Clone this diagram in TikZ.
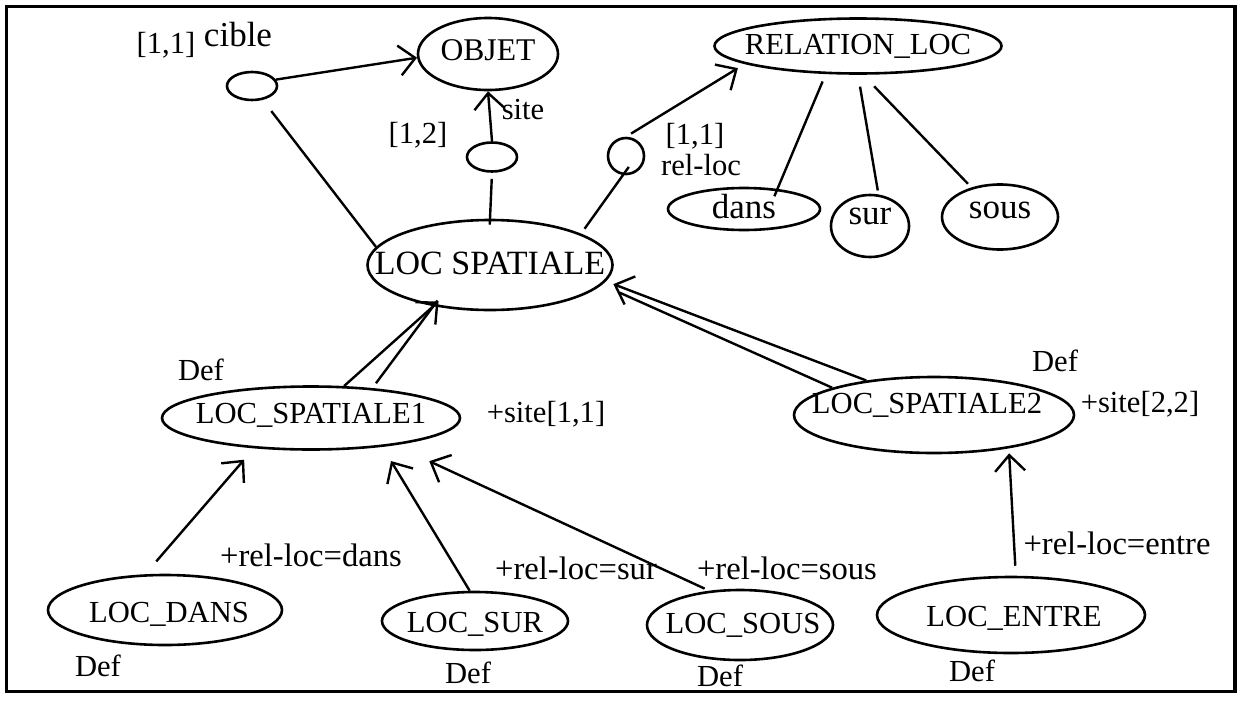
\documentclass[tikz,border=0pt]{standalone}
\usepackage{fontspec}
\setmainfont{Liberation Serif}
\usetikzlibrary{arrows.meta,calc,positioning,shapes.geometric}

\begin{document}
\begin{tikzpicture}[x=0.5pt,y=-0.5pt,
  every node/.style={font=\fontsize{15.3}{18}\selectfont,inner sep=0pt},
  grand/.style={font=\fontsize{17.5}{20}\selectfont},
  classe/.style={draw,ellipse,line width=1.3pt},
  lien/.style={line width=1.2pt},
  fleche/.style={line width=1.2pt,-{Straight Barb[length=8pt,width=15pt]}}]
\useasboundingbox (0,0) rectangle (1242,702);
\draw[line width=1.8pt] (6.5,6.5) rectangle (1235,691.5);

\node[classe,minimum width=70pt,minimum height=36pt,label={[yshift=2pt,font=\fontsize{15.8}{18}\selectfont]center:OBJET}] (objet) at (488,54) {};
\node[classe,minimum width=143.5pt,minimum height=27.5pt,label=center:RELATION\_LOC] (relrel) at (858,46) {};
\node[classe,minimum width=25pt,minimum height=14pt] (cible) at (252,86) {};
\node[classe,minimum width=25pt,minimum height=14.5pt] (site) at (492,157) {};
\node[classe,minimum width=18pt,minimum height=18pt] (relloc) at (626,156) {};
\node[classe,minimum width=76pt,minimum height=21pt,label={[grand,yshift=1pt]center:dans}] (dans) at (744,209) {};
\node[classe,minimum width=39pt,minimum height=31pt,label={[grand,yshift=5pt]center:sur}] (sur) at (870,226) {};
\node[classe,minimum width=58pt,minimum height=32.5pt,label={[grand,yshift=3.5pt]center:sous}] (sous) at (1000,217) {};
\node[classe,minimum width=122.5pt,minimum height=45pt,label={[font=\fontsize{17}{20}\selectfont,yshift=1pt]center:LOC SPATIALE}] (locsp) at (490,265) {};
\node[classe,minimum width=149pt,minimum height=31.5pt,label={[yshift=1.5pt]center:LOC\_SPATIALE1}] (ls1) at (311,418) {};
\node[classe,minimum width=140pt,minimum height=38pt,label={[xshift=-3.5pt,yshift=5pt]center:LOC\_SPATIALE2}] (ls2) at (934,415) {};
\node[classe,minimum width=117pt,minimum height=35pt,label={[xshift=2pt,yshift=-2pt]center:LOC\_DANS}] (ldans) at (165,610) {};
\node[classe,minimum width=93pt,minimum height=29pt,label={[yshift=-1.5pt]center:LOC\_SUR}] (lsur) at (475,621) {};
\node[classe,minimum width=93pt,minimum height=35pt,label={[xshift=1.5pt]center:LOC\_SOUS}] (lsous) at (740,625) {};
\node[classe,minimum width=134pt,minimum height=38pt,label={[xshift=1.5pt,yshift=-1.5pt]center:LOC\_ENTRE}] (lentre) at (1011,615) {};

\node (c11) at (166,45) {[1,1]};
\node[grand] (lcible) at (238,35) {cible};
\node (l12) at (418,135) {[1,2]};
\node (lsite) at (523,110) {site};
\node (r11) at (695,136) {[1,1]};
\node (lrelloc) at (701,165) {rel-loc};
\node (def1) at (201,370) {Def};
\node (s11) at (546,414) {+site[1,1]};
\node (def2) at (1055,361) {Def};
\node (s22) at (1140,404) {+site[2,2]};
\node[font=\fontsize{16.3}{19}\selectfont] (rdans) at (311,555) {+rel-loc=dans};
\node[font=\fontsize{16.3}{19}\selectfont] (rsur) at (576,568) {+rel-loc=sur};
\node[font=\fontsize{16.3}{19}\selectfont] (rsous) at (787,568) {+rel-loc=sous};
\node[font=\fontsize{16.3}{19}\selectfont] (rentre) at (1117,543) {+rel-loc=entre};
\foreach \px/\py/\nm in {98/666/defdans,468/673/defsur,720/676/defsous,972/671/defentre}
  \node (\nm) at (\px,\py) {Def};

\draw[fleche] (cible.15) -- (objet.183);
\draw[lien,shorten <=7pt] (cible) -- (locsp.171);
\draw[fleche] (site.north) -- (objet.south);
\draw[lien,shorten <=3pt,shorten >=-3pt] (site.south) -- (locsp.north);
\draw[fleche,shorten <=3pt,shorten >=4pt] (relloc.north) -- (relrel.189);
\draw[lien,shorten <=-5pt,shorten >=3pt] (relloc.-99) -- (locsp.19);
\draw[lien,shorten <=4pt,shorten >=-4pt] (relrel.-139) -- (dans.31);
\draw[lien,shorten <=6pt,shorten >=2pt] (relrel.south) -- (sur.75);
\draw[lien,shorten <=8pt,shorten >=2.5pt] (relrel.-80) -- (sous.134);

\draw[fleche,shorten >=-3.5pt] (ls1.44) -- (locsp.-144);
\draw[lien,shorten <=3pt,shorten >=-3.5pt] (ls1.26) -- (locsp.-144);
\draw[fleche,shorten >=4pt] (ls2.153) -- (locsp.-8);
\draw[lien,shorten >=9.7pt] (ls2.165) -- (locsp.-10);

\draw[fleche,shorten <=8.5pt,shorten >=7.5pt] (ldans.119) -- (ls1.-152);
\draw[fleche,shorten >=8.3pt] (lsur.100) -- (ls1.-22);
\draw[fleche,shorten <=2.5pt,shorten >=19pt] (lsous.132) -- (ls1.-18);
\draw[fleche,shorten <=5pt,shorten >=2.5pt] (lentre.83) -- (ls2.-24);
\end{tikzpicture}
\end{document}
